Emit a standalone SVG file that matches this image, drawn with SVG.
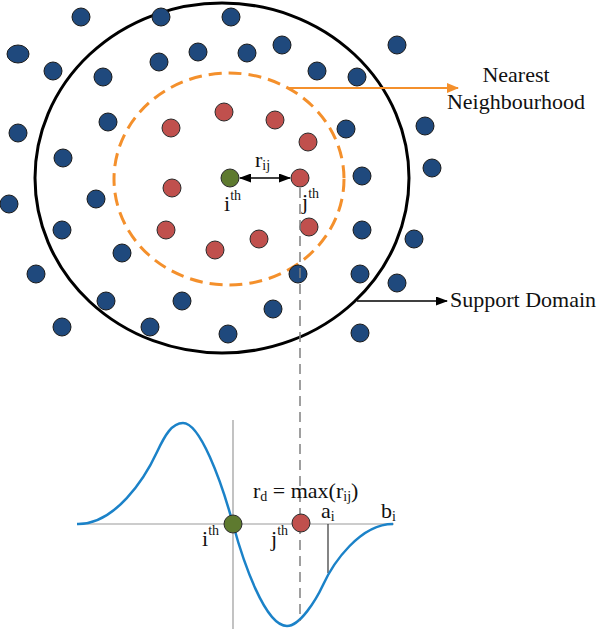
<svg xmlns="http://www.w3.org/2000/svg" width="598" height="629" viewBox="0 0 598 629">
<defs>
<style>
.b{fill:#1F497D;stroke:#1a1a1a;stroke-width:1}
.r{fill:#C0504D;stroke:#2a2a2a;stroke-width:1}
.g{fill:#5E7A2F;stroke:#2a2a2a;stroke-width:1}
.t{font-family:"Liberation Serif","Times New Roman",serif;font-size:22px;fill:#111}
.s{font-size:14px;fill:#111}
.ax{stroke:#9a9a9a;stroke-width:1.2;fill:none}
</style>
<marker id="ao" viewBox="0 0 12 10" refX="11" refY="5" markerWidth="12" markerHeight="10" markerUnits="userSpaceOnUse" orient="auto"><path d="M0,0L12,5L0,10z" fill="#F4902C"/></marker>
<marker id="ak" viewBox="0 0 12 9" refX="11" refY="4.5" markerWidth="12" markerHeight="9" markerUnits="userSpaceOnUse" orient="auto-start-reverse"><path d="M0,0L12,4.5L0,9z" fill="#000"/></marker>
</defs>
<rect width="598" height="629" fill="#fff"/>
<g id="support-domain"><ellipse cx="222" cy="178" rx="187" ry="175" fill="none" stroke="#000" stroke-width="3"/></g>
<g id="nearest-neighbourhood"><ellipse cx="229" cy="179" rx="115" ry="106" fill="none" stroke="#F4902C" stroke-width="3" stroke-dasharray="13 7"/></g>
<g id="blue-nodes">
<circle class="b" cx="81" cy="17" r="9"/>
<circle class="b" cx="161" cy="17" r="9"/>
<circle class="b" cx="231" cy="17" r="9"/>
<ellipse class="b" cx="18" cy="54" rx="11" ry="9"/>
<circle class="b" cx="53" cy="71" r="9"/>
<circle class="b" cx="103" cy="77" r="9"/>
<circle class="b" cx="159" cy="62" r="9"/>
<circle class="b" cx="198" cy="52" r="9"/>
<circle class="b" cx="247" cy="53" r="9"/>
<circle class="b" cx="282" cy="45" r="9"/>
<circle class="b" cx="397" cy="45" r="9"/>
<circle class="b" cx="317" cy="71" r="9"/>
<circle class="b" cx="357" cy="77" r="9"/>
<circle class="b" cx="18" cy="133" r="9"/>
<circle class="b" cx="108" cy="122" r="9"/>
<circle class="b" cx="63" cy="158" r="9"/>
<circle class="b" cx="346" cy="129" r="9"/>
<circle class="b" cx="425" cy="126" r="9"/>
<circle class="b" cx="432" cy="168" r="9"/>
<circle class="b" cx="9" cy="204" r="9"/>
<circle class="b" cx="96" cy="199" r="9"/>
<circle class="b" cx="62" cy="230" r="9"/>
<circle class="b" cx="122" cy="253" r="9"/>
<circle class="b" cx="36" cy="274" r="9"/>
<circle class="b" cx="106" cy="301" r="9"/>
<circle class="b" cx="182" cy="301" r="9"/>
<circle class="b" cx="273" cy="309" r="9"/>
<circle class="b" cx="62" cy="327" r="9"/>
<circle class="b" cx="150" cy="327" r="9"/>
<circle class="b" cx="228" cy="334" r="9"/>
<circle class="b" cx="298" cy="274" r="9"/>
<circle class="b" cx="362" cy="176" r="9"/>
<circle class="b" cx="362" cy="230" r="9"/>
<circle class="b" cx="414" cy="239" r="9"/>
<circle class="b" cx="360" cy="274" r="9"/>
<circle class="b" cx="397" cy="283" r="9"/>
<circle class="b" cx="360" cy="333" r="9"/>
</g>
<g id="red-nodes">
<circle class="r" cx="171" cy="128" r="9"/>
<circle class="r" cx="224" cy="112" r="9"/>
<circle class="r" cx="275" cy="120" r="9"/>
<circle class="r" cx="308" cy="142" r="9"/>
<circle class="r" cx="172" cy="188" r="9"/>
<circle class="r" cx="166" cy="230" r="9"/>
<circle class="r" cx="215" cy="250" r="9"/>
<circle class="r" cx="259" cy="239" r="9"/>
<circle class="r" cx="309" cy="227" r="9"/>
</g>
<g id="node-i"><circle class="g" cx="230" cy="178" r="9"/><text class="t" x="224" y="211">i<tspan class="s" dy="-11">th</tspan></text></g>
<g id="node-j"><circle class="r" cx="300" cy="178" r="9"/><text class="t" x="302" y="209">j<tspan class="s" dy="-11">th</tspan></text></g>
<g id="plot-axes">
<line class="ax" x1="77" y1="524" x2="394" y2="524"/>
<line class="ax" x1="233" y1="420" x2="233" y2="629"/>
<line x1="328" y1="524" x2="328" y2="573" stroke="#333" stroke-width="1.2"/>
</g>
<g id="curve"><path d="M77,524 C115,525 145,478 157,452 C165,435 172,423 183,423 C200,423 221,480 233,524 C243,561 265,626 287,626 C300,626 316,600 323,585 C333,563 360,524 393,524" fill="none" stroke="#1B82C8" stroke-width="2.5"/></g>
<g id="connectors">
<line x1="288" y1="88" x2="458" y2="88" stroke="#F4902C" stroke-width="2.2" marker-end="url(#ao)"/>
<line x1="357" y1="301" x2="447" y2="301" stroke="#000" stroke-width="1.5" marker-end="url(#ak)"/>
<line x1="240" y1="178" x2="290" y2="178" stroke="#000" stroke-width="1.5" marker-start="url(#ak)" marker-end="url(#ak)"/>
<line x1="300" y1="188" x2="300" y2="621" stroke="#808080" stroke-width="1.5" stroke-dasharray="10 6"/>
</g>
<g id="plot-node-i"><circle class="g" cx="233" cy="524" r="9"/><text class="t" x="202" y="546">i<tspan class="s" dy="-11">th</tspan></text></g>
<g id="plot-node-j"><circle class="r" cx="301" cy="523" r="9"/><text class="t" x="271" y="546">j<tspan class="s" dy="-11">th</tspan></text></g>
<g id="labels">
<text class="t" x="516" y="82" text-anchor="middle">Nearest</text>
<text class="t" x="516" y="109" text-anchor="middle">Neighbourhood</text>
<text class="t" x="450" y="307">Support Domain</text>
<text class="t" x="255" y="167">r<tspan class="s" dy="3">ij</tspan></text>
<text class="t" x="253" y="498">r<tspan class="s" dy="3">d</tspan><tspan dy="-3"> = max(r</tspan><tspan class="s" dy="3">ij</tspan><tspan dy="-3">)</tspan></text>
<text class="t" x="321" y="518">a<tspan class="s" dy="3">i</tspan></text>
<text class="t" x="381" y="518">b<tspan class="s" dy="3">i</tspan></text>
</g>
</svg>
